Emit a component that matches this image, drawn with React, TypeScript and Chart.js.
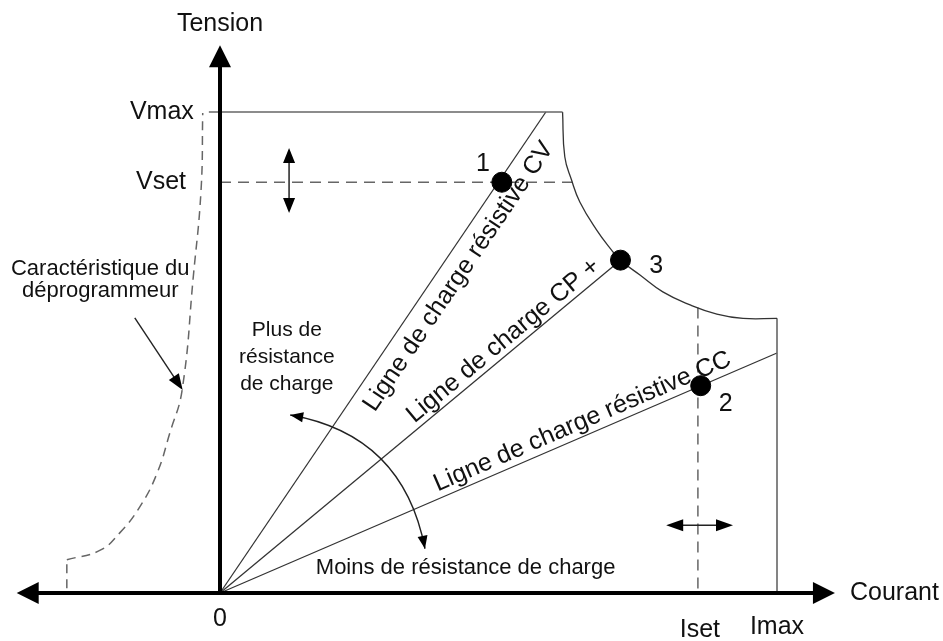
import React, { useEffect, useRef } from "react";
import { Chart, registerables } from "chart.js";

Chart.register(...registerables);

const FONT = '"Liberation Sans", Arial, Helvetica, sans-serif';

// ---- reference values (Imax = 10, Vmax = 10) ----
const vMax = 10;
const vSet = 8.54;
const iMax = 10;
const iSet = 8.58;

// ---- power limit curve (CP boundary) ----
const limitCurveX = [6.15, 6.19, 6.31, 6.46, 6.76, 7.03, 7.19, 7.54, 7.95, 8.44, 8.92, 9.39, 10.0];
const limitCurveY = [10.0, 9.07, 8.59, 8.13, 7.55, 7.13, 6.92, 6.61, 6.26, 5.99, 5.8, 5.71, 5.71];

// ---- resistive load lines (from origin): CV, CP, CC ----
const loadLineNames = ["Ligne de charge résistive CV", "Ligne de charge CP +", "Ligne de charge résistive CC"];
const loadLineEndX = [5.85, 7.19, 10.0];
const loadLineEndY = [10.0, 6.92, 4.99];
const loadLineLabelAt = [0.406, 0.495, 0.396];

// ---- operating points ----
const opPointLabels = ["1", "2", "3"];
const opPointX = [5.06, 8.63, 7.19];
const opPointY = [8.54, 4.31, 6.92];

// ---- down-programmer characteristic ----
const downStemX = [-2.75, -2.75];
const downStemY = [0.1, 0.69];
const downCurveX = [-2.75, -2.15, -1.8, -1.44, -1.13, -0.9, -0.68, -0.48, -0.34, -0.31];
const downCurveY = [0.69, 0.89, 1.25, 1.79, 2.49, 3.33, 4.22, 6.57, 8.38, 9.98];

// ---- axes ----
const xAxisLeft = -3.65;
const xAxisRight = 11.04;
const yAxisTop = 11.39;
const vMaxLineStart = -0.2;
const xTickLabels = ["0", "Iset", "Imax"];
const xTickValues = [0, iSet, iMax];
const yTickLabels = ["Vmax", "Vset"];
const yTickValues = [vMax, vSet];

const pts = (xs: number[], ys: number[]) => xs.map((x, i) => ({ x, y: ys[i] }));

function interpX(xs: number[], ys: number[], y: number) {
  for (let i = 0; i < xs.length - 1; i++) {
    const a = ys[i], b = ys[i + 1];
    if ((y <= a && y >= b) || (y >= a && y <= b)) {
      const t = a === b ? 0 : (y - a) / (b - a);
      return xs[i] + t * (xs[i + 1] - xs[i]);
    }
  }
  return xs[xs.length - 1];
}
function interpY(xs: number[], ys: number[], x: number) {
  for (let i = 0; i < xs.length - 1; i++) {
    if (x >= xs[i] && x <= xs[i + 1]) {
      const t = (x - xs[i]) / (xs[i + 1] - xs[i]);
      return ys[i] + t * (ys[i + 1] - ys[i]);
    }
  }
  return ys[ys.length - 1];
}

const vSetEnd = interpX(limitCurveX, limitCurveY, vSet);
const iSetTop = interpY(limitCurveX, limitCurveY, iSet);
const imaxTop = limitCurveY[limitCurveY.length - 1];

function arrowHead(ctx: CanvasRenderingContext2D, tx: number, ty: number, fx: number, fy: number, len: number, wid: number) {
  const dx = tx - fx, dy = ty - fy;
  const d = Math.hypot(dx, dy) || 1;
  const ux = dx / d, uy = dy / d;
  const bx = tx - ux * len, by = ty - uy * len;
  ctx.beginPath();
  ctx.moveTo(tx, ty);
  ctx.lineTo(bx - uy * wid / 2, by + ux * wid / 2);
  ctx.lineTo(bx + uy * wid / 2, by - ux * wid / 2);
  ctx.closePath();
  ctx.fill();
}

const diagramPlugin = {
  id: "diagram",
  afterDatasetsDraw(chart: any) {
    const ctx: CanvasRenderingContext2D = chart.ctx;
    const X = (v: number) => chart.scales.x.getPixelForValue(v);
    const Y = (v: number) => chart.scales.y.getPixelForValue(v);
    const ox = X(0), oy = Y(0);
    ctx.save();
    ctx.fillStyle = "#000";
    ctx.strokeStyle = "#000";

    // main axes
    const H = 22;
    ctx.lineWidth = 4;
    ctx.beginPath();
    ctx.moveTo(X(xAxisLeft) + H - 2, oy);
    ctx.lineTo(X(xAxisRight) - H + 2, oy);
    ctx.moveTo(ox, oy + 2);
    ctx.lineTo(ox, Y(yAxisTop) + H - 2);
    ctx.stroke();
    arrowHead(ctx, X(xAxisLeft), oy, ox, oy, H, 22);
    arrowHead(ctx, X(xAxisRight), oy, ox, oy, H, 22);
    arrowHead(ctx, ox, Y(yAxisTop), ox, oy, H, 22);

    // small double arrows (Vset, Iset)
    ctx.lineWidth = 1.5;
    ctx.strokeStyle = "#222";
    ctx.fillStyle = "#000";
    const vx = X(1.24), vy1 = Y(9.25), vy2 = Y(7.9);
    ctx.beginPath(); ctx.moveTo(vx, vy1 + 10); ctx.lineTo(vx, vy2 - 10); ctx.stroke();
    arrowHead(ctx, vx, vy1, vx, vy2, 15, 12);
    arrowHead(ctx, vx, vy2, vx, vy1, 15, 12);
    const hy = Y(1.41), hx1 = X(8.01), hx2 = X(9.21);
    ctx.beginPath(); ctx.moveTo(hx1 + 10, hy); ctx.lineTo(hx2 - 10, hy); ctx.stroke();
    arrowHead(ctx, hx1, hy, hx2, hy, 17, 12);
    arrowHead(ctx, hx2, hy, hx1, hy, 17, 12);

    // pointer to down-programmer curve
    const pfx = X(-1.53), pfy = Y(5.72), ptx = X(-0.67), pty = Y(4.22);
    ctx.lineWidth = 1.4;
    ctx.beginPath(); ctx.moveTo(pfx, pfy);
    const pd = Math.hypot(ptx - pfx, pty - pfy);
    ctx.lineTo(ptx - (ptx - pfx) / pd * 12, pty - (pty - pfy) / pd * 12);
    ctx.stroke();
    arrowHead(ctx, ptx, pty, pfx, pfy, 16, 12);

    // resistance arc arrow
    const ax = X(1.26), ay = Y(3.7), cx = X(3.29), cy = Y(3.29), ex = X(3.68), ey = Y(0.92);
    ctx.beginPath();
    ctx.moveTo(ax, ay);
    ctx.quadraticCurveTo(cx, cy, ex, ey);
    ctx.stroke();
    arrowHead(ctx, ax, ay, cx, cy, 13, 10);
    arrowHead(ctx, ex, ey, cx, cy, 13, 10);

    // text
    ctx.fillStyle = "#111";
    ctx.font = `25px ${FONT}`;
    ctx.textAlign = "center";
    ctx.textBaseline = "middle";
    ctx.fillText("Tension", X(0), Y(11.83));
    ctx.textAlign = "left";
    ctx.fillText("Courant", X(11.31), Y(0));
    ctx.textAlign = "center";
    const xLabY = [-0.54, -0.77, -0.71];
    xTickLabels.forEach((t, i) => ctx.fillText(t, X(xTickValues[i]) + (i === 1 ? 2 : 0), Y(xLabY[i])));
    ctx.textAlign = "right";
    const yLabX = [-0.47, -0.61];
    yTickLabels.forEach((t, i) => ctx.fillText(t, X(yLabX[i]), Y(yTickValues[i])));
    ctx.textAlign = "center";
    const opLabX = [4.72, 9.08, 7.83];
    const opLabY = [8.92, 3.93, 6.8];
    opPointLabels.forEach((t, i) => ctx.fillText(t, X(opLabX[i]), Y(opLabY[i])));

    ctx.font = `22px ${FONT}`;
    ctx.fillText("Caractéristique du", X(-2.15), Y(6.73));
    ctx.fillText("déprogrammeur", X(-2.15), Y(6.29));
    ctx.textAlign = "left";
    ctx.fillText("Moins de résistance de charge", X(1.72), Y(0.53));
    ctx.font = `21px ${FONT}`;
    ctx.textAlign = "center";
    ctx.fillText("Plus de", X(1.2), Y(5.47));
    ctx.fillText("résistance", X(1.2), Y(4.91));
    ctx.fillText("de charge", X(1.2), Y(4.35));

    // labels along load lines
    ctx.font = `25px ${FONT}`;
    ctx.textAlign = "left";
    ctx.textBaseline = "alphabetic";
    const offsets = [27, -6, -7];
    loadLineNames.forEach((name, i) => {
      const ex2 = X(loadLineEndX[i]), ey2 = Y(loadLineEndY[i]);
      const ang = Math.atan2(ey2 - oy, ex2 - ox);
      const f = loadLineLabelAt[i];
      ctx.save();
      ctx.translate(ox + (ex2 - ox) * f, oy + (ey2 - oy) * f);
      ctx.rotate(ang);
      ctx.fillText(name, 0, offsets[i]);
      ctx.restore();
    });
    ctx.restore();
  },
};

const thin = { borderColor: "#333", borderWidth: 1.3, pointRadius: 0, showLine: true, fill: false };
const dashed = { borderColor: "#666", borderWidth: 1.5, pointRadius: 0, showLine: true, fill: false };

export default function App() {
  const ref = useRef<HTMLCanvasElement>(null);
  useEffect(() => {
    const chart = new Chart(ref.current!, {
      type: "scatter",
      data: {
        datasets: [
          {
            label: "points",
            data: pts(opPointX, opPointY),
            pointRadius: 10,
            pointBackgroundColor: "#000",
            pointBorderColor: "#000",
            showLine: false,
          } as any,
          { label: "vmax", data: [{ x: vMaxLineStart, y: vMax }, { x: limitCurveX[0], y: vMax }], ...thin, borderColor: "#666", borderWidth: 1.6 },
          { label: "limit", data: pts(limitCurveX, limitCurveY), ...thin, tension: 0.45 },
          { label: "imax", data: [{ x: iMax, y: imaxTop }, { x: iMax, y: 0 }], ...thin, borderColor: "#666", borderWidth: 1.6 },
          { label: "vset", data: [{ x: 0, y: vSet }, { x: vSetEnd, y: vSet }], ...dashed, borderDash: [11, 7] },
          { label: "iset", data: [{ x: iSet, y: iSetTop }, { x: iSet, y: 0 }], ...dashed, borderDash: [11, 7] },
          ...loadLineEndX.map((ex, i) => ({ label: loadLineNames[i], data: [{ x: 0, y: 0 }, { x: ex, y: loadLineEndY[i] }], ...thin })),
          { label: "stem", data: pts(downStemX, downStemY), ...dashed, borderDash: [9, 6] },
          { label: "down", data: pts(downCurveX, downCurveY), ...dashed, borderDash: [9, 6], tension: 0.45 },
        ] as any,
      },
      options: {
        animation: false,
        responsive: false,
        devicePixelRatio: 1,
        layout: { padding: 0, autoPadding: false },
        plugins: { legend: { display: false }, tooltip: { enabled: false } },
        scales: {
          x: { type: "linear", display: false, min: -220 / 55.7, max: (943 - 220) / 55.7 },
          y: { type: "linear", display: false, min: -(641 - 593) / 48.1, max: 593 / 48.1 },
        },
      },
      plugins: [diagramPlugin],
    });
    return () => chart.destroy();
  }, []);
  return (
    <div style={{ position: "fixed", left: 0, top: 0, width: 943, height: 641, background: "#fff" }}>
      <canvas ref={ref} width={943} height={641} style={{ display: "block", width: 943, height: 641 }} />
    </div>
  );
}
